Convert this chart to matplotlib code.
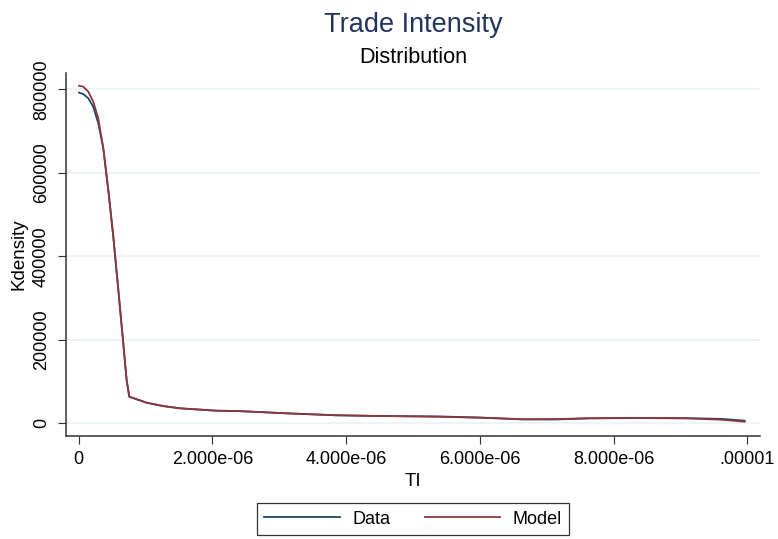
import matplotlib
matplotlib.use('Agg')
import matplotlib.pyplot as plt

# kernel density estimates (x in units of 1e-6)
ti_x = [0.005, 0.069, 0.144, 0.218, 0.293, 0.368, 0.443, 0.518, 0.593, 0.667,
        0.717, 0.757, 1.017, 1.26, 1.515, 2.06, 2.36, 3.10, 3.85, 4.5,
        5.40, 6.0, 6.64, 7.13, 7.63, 8.38, 9.12, 9.62, 9.96]
data_y = [791900, 788700, 778400, 758300, 718600, 658700, 558800, 447000, 319300, 191600,
          103700, 63700, 49300, 41400, 35900, 30200, 29500, 24000, 19200, 17500,
          16300, 13900, 9300, 9200, 11800, 12700, 12300, 10500, 6300]
model_y = [808600, 806300, 794300, 770300, 730500, 658700, 558800, 447000, 319300, 191600,
           103700, 63700, 49300, 41400, 35900, 30200, 29500, 24000, 19200, 17500,
           15800, 13300, 9900, 10000, 12200, 12700, 11700, 8500, 3900]

xticks = [0, 2e-6, 4e-6, 6e-6, 8e-6, 1e-5]
xtick_labels = ['0', '2.000e-06', '4.000e-06', '6.000e-06', '8.000e-06', '.00001']
yticks = [0, 200000, 400000, 600000, 800000]
ytick_labels = ['0', '200000', '400000', '600000', '800000']

navy = '#1a476f'
maroon = '#90353b'
title_col = '#22335e'

plt.rcParams['font.family'] = ['Liberation Sans', 'DejaVu Sans']

fig = plt.figure(figsize=(7.78, 5.39), dpi=100)
ax = fig.add_axes([0.0848, 0.1911, 0.9769 - 0.0848, 0.864 - 0.1911])

xs = [v * 1e-6 for v in ti_x]
ax.plot(xs, data_y, color=navy, lw=1.3, label='Data', zorder=3)
ax.plot(xs, model_y, color=maroon, lw=1.3, label='Model', zorder=4)

ax.set_xlim(-0.19e-6, 10.19e-6)
ax.set_ylim(-30400, 838300)
ax.set_xticks(xticks)
ax.set_xticklabels(xtick_labels)
ax.set_yticks(yticks)
ax.set_yticklabels(ytick_labels, rotation=90, va='center')

ax.grid(axis='y', color='#eaf2f3', lw=1.2, zorder=0)
ax.set_axisbelow(True)

for s in ['top', 'right']:
    ax.spines[s].set_visible(False)
for s in ['left', 'bottom']:
    ax.spines[s].set_color('#333333')
    ax.spines[s].set_linewidth(1.1)

ax.tick_params(axis='both', length=5.5, width=0.8, color='#333333', labelsize=13)
ax.tick_params(axis='x', pad=5)
ax.tick_params(axis='y', pad=6)

ax.set_xlabel('TI', fontsize=13.5, labelpad=4)
ax.set_ylabel('Kdensity', fontsize=13.5, labelpad=4)

fig.text(413 / 778, 1 - 32.3 / 539, 'Trade Intensity', color=title_col, fontsize=19.5,
         ha='center', va='baseline')
fig.text(413 / 778, 1 - 63.3 / 539, 'Distribution', color='black', fontsize=15.6,
         ha='center', va='baseline')

leg = fig.legend(loc='center', bbox_to_anchor=(413 / 778, 1 - 519 / 539), ncol=2,
                 fontsize=13, frameon=True, fancybox=False, edgecolor='black',
                 handlelength=4.2, handletextpad=0.7, columnspacing=1.9,
                 borderpad=0.4)
leg.get_frame().set_linewidth(0.9)

fig.savefig('out.png', dpi=100)
